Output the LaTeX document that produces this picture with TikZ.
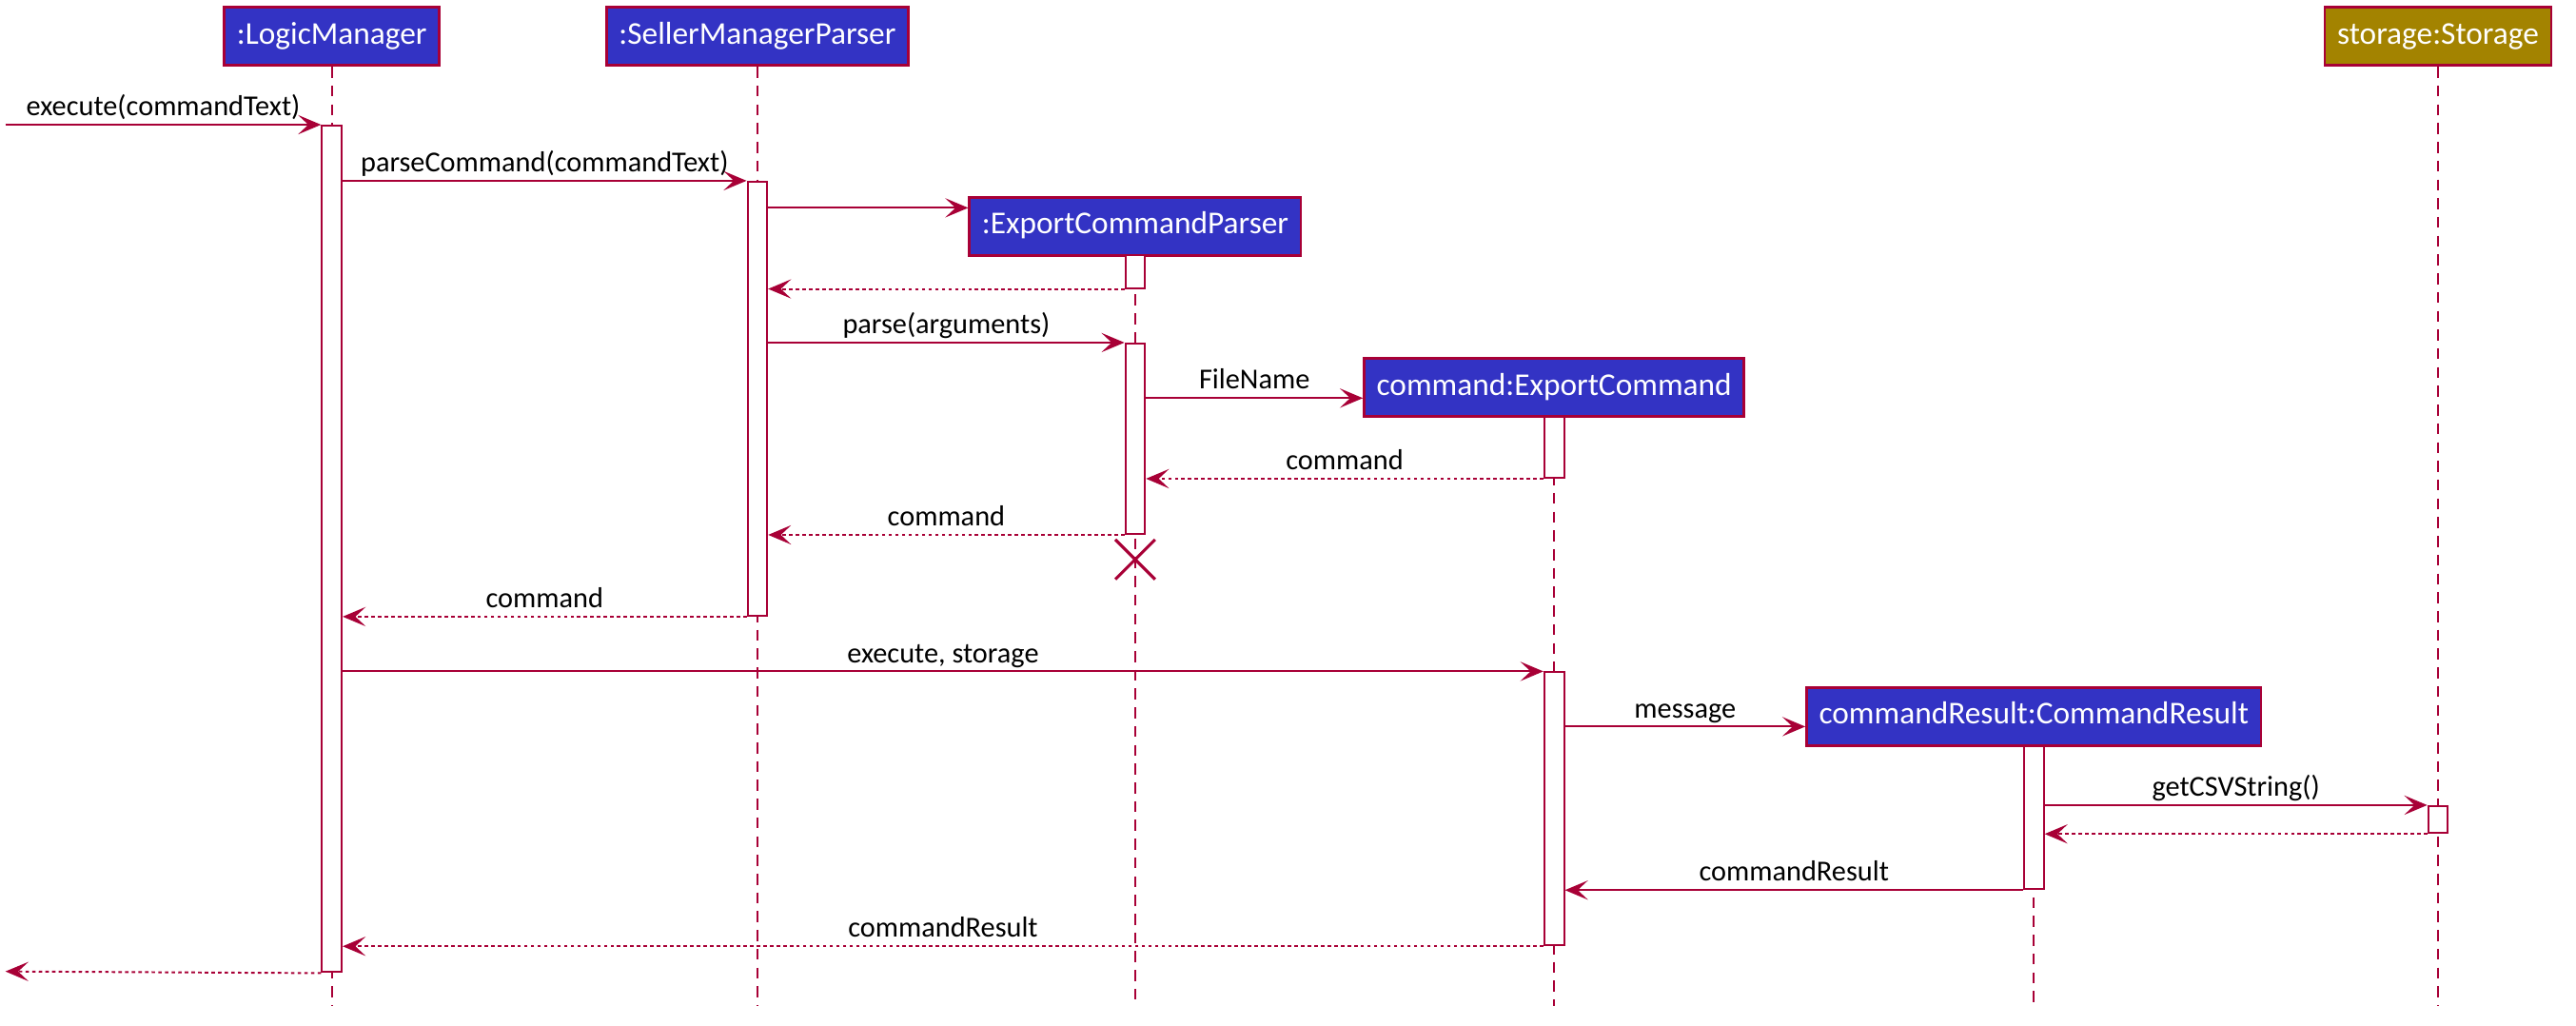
\documentclass[tikz,border=0pt]{standalone}
\usepackage{fontspec}
\setmainfont{Carlito}
\usetikzlibrary{arrows.meta,shapes.misc}

\definecolor{umlred}{HTML}{A80036}
\definecolor{logicblue}{HTML}{3333C4}
\definecolor{storegold}{HTML}{A38300}

\begin{document}
\begin{tikzpicture}[x=0.02cm, y=-0.02cm,
    actor/.style={rectangle, draw=umlred, line width=0.9pt, fill=logicblue, text=white,
      font=\fontsize{11}{13}\selectfont, inner xsep=4.3pt, inner ysep=2pt,
      text height=0.75em, text depth=0.22em, minimum height=0.71cm, anchor=north},
    life/.style={draw=umlred, line width=0.6pt, dash pattern=on 3.8pt off 2.7pt},
    bar/.style={rectangle, draw=umlred, fill=white, line width=0.65pt,
      minimum width=0.24cm, inner sep=0pt, anchor=north},
    msg/.style={draw=umlred, line width=0.65pt,
      -{Stealth[length=0.28cm, width=0.235cm, inset=0.125cm]}},
    ret/.style={msg, dash pattern=on 1.2pt off 1.1pt},
    lbl/.style={font=\fontsize{10}{12}\selectfont, anchor=base, yshift=3.1pt, inner sep=0pt}]
  \useasboundingbox (0,0) rectangle (1568,624);

  % participants
  \node (lm) [actor] at (202,3.6) {:LogicManager};
  \node (smp) [actor] at (461,3.6) {:SellerManagerParser};
  \node (st) [actor, fill=storegold] at (1484,3.6) {storage:Storage};
  \node (ecp) [actor] at (691,119.3) {:ExportCommandParser};
  \node (ec) [actor] at (946,217.2) {command:ExportCommand};
  \node (cr) [actor] at (1238,417.6) {commandResult:CommandResult};

  % lifelines
  \coordinate (bottom) at (0,612);
  \foreach \p in {lm,smp,ecp,ec,cr,st}
    \draw[life] (\p.south) -- (\p.south |- bottom);

  % activation bars
  \node (lm1) [bar, minimum height=10.306cm] at (202,75.9) {};
  \node (smp1) [bar, minimum height=5.284cm] at (461,110) {};
  \node (ecp1) [bar, minimum height=0.4cm] at (691,154.7) {};
  \node (ecp2) [bar, minimum height=2.318cm] at (691,208.5) {};
  \node (ec1) [bar, minimum height=0.746cm] at (946,252.9) {};
  \node (ec2) [bar, minimum height=3.324cm] at (946,408.6) {};
  \node (cr1) [bar, minimum height=1.738cm] at (1238,453.7) {};
  \node (st1) [bar, minimum height=0.328cm] at (1484,490) {};

  % message levels and free ends
  \coordinate (in) at (3.3,75.9);
  \coordinate (out) at (3.3,591.2);
  \coordinate (c1) at (0,126.5);
  \coordinate (c2) at (0,242.3);
  \coordinate (c3) at (0,442.2);

  % messages
  \draw[msg] (in) -- (lm1.north west) node[lbl, midway] {execute(commandText)};
  \draw[msg] (lm1.east |- smp1.north) -- (smp1.north west) node[lbl, midway] {parseCommand(commandText)};
  \draw[msg] (smp1.east |- c1) -- (ecp.west |- c1);
  \draw[ret] (ecp1.south west) -- (smp1.east |- ecp1.south);
  \draw[msg] (smp1.east |- ecp2.north) -- (ecp2.north west) node[lbl, midway] {parse(arguments)};
  \draw[msg] (ecp2.east |- c2) -- (ec.west |- c2) node[lbl, midway] {FileName};
  \draw[ret] (ec1.south west) -- (ecp2.east |- ec1.south) node[lbl, midway] {command};
  \draw[ret] (ecp2.south west) -- (smp1.east |- ecp2.south) node[lbl, midway] {command};
  \draw[ret] (smp1.south west) -- (lm1.east |- smp1.south) node[lbl, midway] {command};
  \draw[msg] (lm1.east |- ec2.north) -- (ec2.north west) node[lbl, midway] {execute, storage};
  \draw[msg] (ec2.east |- c3) -- (cr.west |- c3) node[lbl, midway] {message};
  \draw[msg] (cr1.east |- st1.north) -- (st1.north west) node[lbl, midway] {getCSVString()};
  \draw[ret] (st1.south west) -- (cr1.east |- st1.south);
  \draw[msg] (cr1.south west) -- (ec2.east |- cr1.south) node[lbl, midway] {commandResult};
  \draw[ret] (ec2.south west) -- (lm1.east |- ec2.south) node[lbl, midway] {commandResult};
  \draw[ret] (lm1.south west) -- (out);

  % destroy
  \node (gone) [cross out, draw=umlred, line width=1pt, minimum size=0.45cm, inner sep=0pt] at (691,340.5) {};
\end{tikzpicture}
\end{document}
